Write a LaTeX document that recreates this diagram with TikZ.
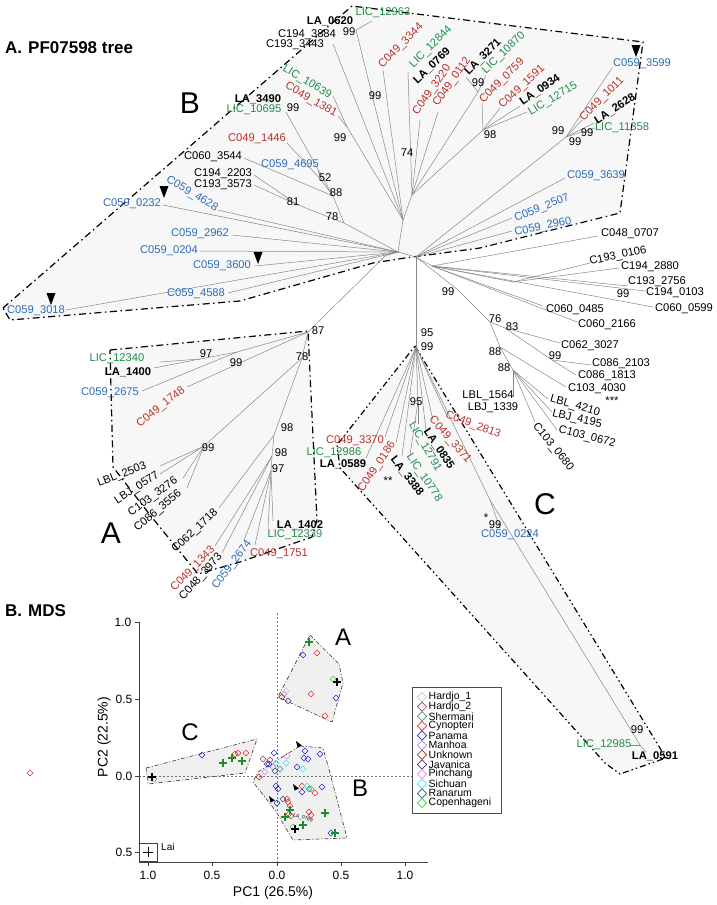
\documentclass[tikz,border=0pt]{standalone}
\usepackage{fontspec}
\setmainfont{Liberation Sans}
\usetikzlibrary{shapes.geometric}
\definecolor{redL}{RGB}{185,50,45}
\definecolor{greenL}{RGB}{35,140,75}
\definecolor{blueL}{RGB}{45,110,185}
\definecolor{edgegray}{RGB}{135,135,135}
\definecolor{hullfill}{RGB}{247,247,247}
\definecolor{cHa}{RGB}{200,200,200}
\definecolor{cHb}{RGB}{160,64,96}
\definecolor{cSh}{RGB}{58,154,138}
\definecolor{cCy}{RGB}{232,48,48}
\definecolor{cPa}{RGB}{42,42,208}
\definecolor{cMa}{RGB}{136,152,240}
\definecolor{cUn}{RGB}{160,48,32}
\definecolor{cJa}{RGB}{74,48,144}
\definecolor{cPi}{RGB}{240,128,240}
\definecolor{cSi}{RGB}{64,232,248}
\definecolor{cRa}{RGB}{48,88,120}
\definecolor{cCo}{RGB}{64,208,64}
\definecolor{cPlus}{RGB}{30,140,40}
\newcommand{\mkD}[3]{\draw[#1,line width=0.6pt] (#2,#3) ++(0,-3) -- ++(3,3) -- ++(-3,3) -- ++(-3,-3) -- cycle;}
\newcommand{\mkP}[3]{\draw[#1,line width=1.1pt] (#2,#3) ++(-4,0) -- ++(8,0) (#2,#3) ++(0,-4) -- ++(0,8);}
\newcommand{\mytri}[2]{\fill (#1,#2) ++(-4.5,-6) -- ++(9,0) -- ++(-4.5,12) -- cycle;}
\newcommand{\mkT}[2]{\fill (#1,#2) ++(-3,-4) -- ++(6,4.5) -- ++(-4.5,2) -- cycle;}
\begin{document}
\begin{tikzpicture}[x=1pt,y=-1pt,
  lab/.style={inner sep=0pt,font=\fontsize{11.2}{12}\selectfont},
  bl/.style={inner sep=0pt,font=\fontsize{11.2}{12}\selectfont\bfseries},
  rd/.style={lab,text=redL},
  gr/.style={lab,text=greenL},
  bu/.style={lab,text=blueL},
  edge/.style={draw=edgegray,line width=0.5pt},
  hull/.style={draw=black,line width=1.2pt,fill=hullfill,dash pattern=on 7pt off 3.5pt on 1.5pt off 3.5pt},
  hullc/.style={draw=black,line width=1.2pt,fill=hullfill,dash pattern=on 6pt off 3pt on 1.5pt off 3pt on 1.5pt off 3pt},
  mhull/.style={draw=black!80,line width=0.6pt,fill=black!6,dash pattern=on 4pt off 2pt on 1pt off 2pt},
  big/.style={inner sep=0pt,font=\fontsize{30}{30}\selectfont},
  mbig/.style={inner sep=0pt,font=\fontsize{24}{24}\selectfont},
  head/.style={inner sep=0pt,anchor=west,font=\fontsize{17}{17}\selectfont\bfseries},
  tick/.style={inner sep=0pt,font=\fontsize{12}{12}\selectfont},
  leglab/.style={inner sep=0pt,anchor=west,font=\fontsize{10.5}{10.5}\selectfont}]
\useasboundingbox (0,0) rectangle (717,905);
\fill[white] (0,0) rectangle (717,905);

% ---------- hulls ----------
\draw[hull] (3,308) -- (352,6) -- (643,42) -- (620,213) -- (480,248) -- (405,258) -- (373,263) -- (240,301) -- (10,320) -- cycle;
\draw[hull] (110,350) -- (308,331) -- (317,520) -- (312,537) -- (240,562) -- (198,574) -- (150,515) -- (113,467) -- cycle;
\draw[hullc] (415,346) -- (666,758) -- (640,767) -- (620,774) -- (605,763) -- (340,468) -- (337,445) -- cycle;

% ---------- tree coordinates ----------
\coordinate (R) at (398,252);
\coordinate (Ra) at (385,256);
\coordinate (Rr) at (416,257);
\coordinate (Rc) at (416,262);
\coordinate (U1) at (403,220);
\coordinate (U2) at (412,195);
\coordinate (n0620) at (356,30);
\coordinate (e12963) at (372,21);
\coordinate (e3884) at (333,44);
\coordinate (n99a) at (347,127);
\coordinate (e10639) at (333,96);
\coordinate (e1381) at (338,116);
\coordinate (e3344) at (383,70);
\coordinate (e12844) at (408,72);
\coordinate (e3220) at (420,120);
\coordinate (e0112) at (438,112);
\coordinate (n3271) at (478,92);
\coordinate (e3271) at (466,77);
\coordinate (e10870) at (486,75);
\coordinate (n98) at (483,130);
\coordinate (e0759) at (482,103);
\coordinate (e1591) at (500,108);
\coordinate (e0934) at (520,106);
\coordinate (e12715) at (527,112);
\coordinate (n78b) at (344,223);
\coordinate (n81) at (298,205);
\coordinate (e3573) at (254,185);
\coordinate (e2203) at (254,175);
\coordinate (n88) at (333,196);
\coordinate (e3544) at (244,158);
\coordinate (n52) at (322,181);
\coordinate (e1446) at (287,143);
\coordinate (e4695) at (318,170);
\coordinate (n99c) at (286,112);
\coordinate (e4628) at (218,210);
\coordinate (e0232) at (163,205);
\coordinate (e2962) at (232,235);
\coordinate (e0204) at (200,251);
\coordinate (e3600) at (255,266);
\coordinate (e4588) at (228,293);
\coordinate (e3018) at (66,310);
\coordinate (n99r) at (566,137);
\coordinate (e3599) at (612,68);
\coordinate (e1011) at (582,120);
\coordinate (e2628) at (594,123);
\coordinate (e11358) at (595,128);
\coordinate (e3639) at (565,178);
\coordinate (e2507) at (512,218);
\coordinate (e2960) at (512,231);
\coordinate (gA) at (432,266);
\coordinate (e0707) at (598,236);
\coordinate (n0106) at (513,282);
\coordinate (e0106) at (590,263);
\coordinate (e2880) at (619,268);
\coordinate (e2756) at (628,286);
\coordinate (e0103) at (645,291);
\coordinate (e0599) at (653,307);
\coordinate (e0485) at (543,306);
\coordinate (e2166) at (577,322);
\coordinate (g99) at (458,290);
\coordinate (n76) at (490,322);
\coordinate (n83) at (505,328);
\coordinate (e3027) at (560,343);
\coordinate (n99m) at (552,360);
\coordinate (e2103) at (591,365);
\coordinate (e1813) at (576,375);
\coordinate (n88a) at (500,347);
\coordinate (e4030) at (566,387);
\coordinate (n88b) at (513,370);
\coordinate (e4210) at (548,399);
\coordinate (e4195) at (552,412);
\coordinate (e0672) at (557,430);
\coordinate (e0680) at (535,422);
\coordinate (e1564) at (513,397);
\coordinate (nC) at (416,347);
\coordinate (e3370) at (385,437);
\coordinate (e0589) at (366,458);
\coordinate (e0186) at (396,443);
\coordinate (e3388) at (402,456);
\coordinate (n95) at (418,402);
\coordinate (e10778) at (410,455);
\coordinate (e12791) at (418,424);
\coordinate (e0835) at (426,430);
\coordinate (e3371) at (433,420);
\coordinate (e2813) at (446,414);
\coordinate (n99C) at (490,500);
\coordinate (e0224) at (500,528);
\coordinate (n99D) at (640,745);
\coordinate (e12985) at (630,745);
\coordinate (e0591) at (646,752);
\coordinate (n87) at (308,332);
\coordinate (n99A) at (237,352);
\coordinate (n97) at (200,359);
\coordinate (e12340) at (160,362);
\coordinate (e1400) at (154,368);
\coordinate (e2675) at (142,391);
\coordinate (e1748) at (187,387);
\coordinate (n78A) at (302,358);
\coordinate (n99L) at (204,446);
\coordinate (e2503) at (160,466);
\coordinate (e0577) at (160,474);
\coordinate (e3276) at (183,478);
\coordinate (e3556) at (187,488);
\coordinate (n98a) at (274,435);
\coordinate (e1718) at (219,508);
\coordinate (n98b) at (272,456);
\coordinate (e1343) at (215,546);
\coordinate (e3973) at (222,553);
\coordinate (n97A) at (271,471);
\coordinate (e2674) at (244,540);
\coordinate (e1751) at (255,545);
\coordinate (e12339) at (268,530);
\coordinate (e1402) at (273,521);

% ---------- tree edges ----------
\foreach \a/\b in {R/Ra,R/Rr,Rr/Rc,R/U1,U1/U2,U1/n0620,n0620/e12963,U1/e3884,U1/n99a,n99a/e10639,n99a/e1381,U1/e3344,
  U2/e12844,U2/e3220,U2/e0112,U2/n3271,n3271/e3271,n3271/e10870,U2/n98,n98/e0759,n98/e1591,n98/e0934,n98/e12715,
  R/n78b,n78b/n81,n81/e3573,n81/e2203,n78b/n88,n88/e3544,n88/n52,n52/e1446,n52/e4695,n88/n99c,
  R/e4628,R/e0232,R/e2962,R/e0204,R/e3600,R/e4588,R/e3018,
  Rr/n99r,n99r/e3599,n99r/e1011,n99r/e2628,n99r/e11358,Rr/e3639,Rr/e2507,Rr/e2960,
  Rr/gA,gA/e0707,gA/n0106,n0106/e0106,n0106/e2880,gA/e2756,gA/e0103,gA/e0599,gA/e0485,gA/e2166,
  Rr/g99,g99/n76,n76/n83,n83/e3027,n83/n99m,n99m/e2103,n99m/e1813,n76/n88a,n88a/e4030,n88a/n88b,
  n88b/e4210,n88b/e4195,n88b/e0672,n88b/e0680,n88b/e1564,
  Rc/nC,nC/e3370,nC/e0589,nC/e0186,nC/e3388,nC/n95,n95/e10778,n95/e12791,nC/e0835,nC/e3371,nC/e2813,
  nC/n99C,n99C/e0224,n99C/n99D,n99D/e12985,n99D/e0591,
  Ra/n87,n87/n99A,n99A/n97,n97/e12340,n97/e1400,n99A/e2675,n87/e1748,n87/n78A,n78A/n99L,
  n99L/e2503,n99L/e0577,n99L/e3276,n99L/e3556,n78A/n98a,n98a/e1718,n98a/n98b,n98b/e1343,n98b/e3973,
  n98b/n97A,n97A/e2674,n97A/e1751,n97A/e12339,n97A/e1402}
  \draw[edge] (\a) -- (\b);

% ---------- triangles ----------
\mytri{164}{192}
\mytri{636}{51}
\mytri{51}{299}
\mytri{258}{258}

% ---------- headings ----------
\node[head] (hA) at (5,48) {A.\hspace{6pt}PF07598 tree};
\node[head] (hB) at (5,611) {B.\hspace{6pt}MDS};
\node[big] (bigB) at (190,103) {B};
\node[big] (bigA) at (111,533) {A};
\node[big] (bigC) at (545,504) {C};

% ---------- B labels ----------
\node[bl] (tLA0620) at (330,21) {LA\_0620};
\node[gr] (tLIC12963) at (383,13) {LIC\_12963};
\node[lab] (s01) at (349,32) {99};
\node[lab] (tC1943884) at (307,35) {C194\_3884};
\node[lab] (tC1933443) at (295,45) {C193\_3443};
\node[gr,rotate=-31] (tLIC10639) at (307,82) {LIC\_10639};
\node[rd,rotate=-30] (tC0491381) at (311,100) {C049\_1381};
\node[bl] (tLA3490) at (258,99) {LA\_3490};
\node[gr] (tLIC10695) at (254,110) {LIC\_10695};
\node[lab] (s02) at (293,108) {99};
\node[rd] (tC0491446) at (257,139) {C049\_1446};
\node[lab] (tC0603544) at (213,157) {C060\_3544};
\node[bu] (tC0594695) at (290,165) {C059\_4695};
\node[lab] (tC1942203) at (223,174) {C194\_2203};
\node[lab] (tC1933573) at (223,185) {C193\_3573};
\node[bu,rotate=-31] (tC0594628) at (192,194) {C059\_4628};
\node[bu] (tC0590232) at (132,204) {C059\_0232};
\node[bu] (tC0592962) at (200,234) {C059\_2962};
\node[bu] (tC0590204) at (169,251) {C059\_0204};
\node[bu] (tC0593600) at (222,266) {C059\_3600};
\node[bu] (tC0594588) at (196,294) {C059\_4588};
\node[bu] (tC0593018) at (36,311) {C059\_3018};
\node[lab] (s03) at (340,138) {99};
\node[lab] (s04) at (375,96) {99};
\node[lab] (s05) at (407,153) {74};
\node[lab] (s06) at (325,178) {52};
\node[lab] (s07) at (336,193) {88};
\node[lab] (s08) at (293,202) {81};
\node[lab] (s09) at (332,217) {78};
\node[rd,rotate=45] (tC0493344) at (401,46) {C049\_3344};
\node[gr,rotate=45] (tLIC12844) at (431,47) {LIC\_12844};
\node[bl,rotate=44] (tLA0769) at (432,66) {LA\_0769};
\node[rd,rotate=55] (tC0493220) at (432,90) {C049\_3220};
\node[rd,rotate=55] (tC0490112) at (452,82) {C049\_0112};
\node[bl,rotate=45] (tLA3271) at (483,57) {LA\_3271};
\node[gr,rotate=44] (tLIC10870) at (504,53) {LIC\_10870};
\node[rd,rotate=45] (tC0490759) at (502,81) {C049\_0759};
\node[rd,rotate=43] (tC0491591) at (522,87) {C049\_1591};
\node[bl,rotate=35] (tLA0934) at (540,90) {LA\_0934};
\node[gr,rotate=31] (tLIC12715) at (553,99) {LIC\_12715};
\node[lab] (s10) at (478,83) {99};
\node[lab] (s11) at (490,135) {98};
\node[bu] (tC0593599) at (642,64) {C059\_3599};
\node[rd,rotate=45] (tC0491011) at (602,99) {C049\_1011};
\node[bl,rotate=33] (tLA2628) at (615,109) {LA\_2628};
\node[gr] (tLIC11358) at (622,128) {LIC\_11358};
\node[lab] (s12) at (558,131) {99};
\node[lab] (s13) at (575,142) {99};
\node[lab] (s14) at (587,133) {99};
\node[bu] (tC0593639) at (596,176) {C059\_3639};
\node[bu,rotate=22] (tC0592507) at (542,208) {C059\_2507};
\node[bu,rotate=12] (tC0592960) at (543,227) {C059\_2960};

% ---------- right black labels ----------
\node[lab] (tC0480707) at (630,234) {C048\_0707};
\node[lab,rotate=12] (tC1930106) at (618,256) {C193\_0106};
\node[lab] (tC1942880) at (650,267) {C194\_2880};
\node[lab] (tC1932756) at (657,282) {C193\_2756};
\node[lab] (s15) at (623,294) {99};
\node[lab] (tC1940103) at (675,293) {C194\_0103};
\node[lab] (tC0600599) at (684,309) {C060\_0599};
\node[lab] (tC0600485) at (575,310) {C060\_0485};
\node[lab] (tC0602166) at (607,325) {C060\_2166};
\node[lab] (s16) at (448,292) {99};
\node[lab] (s17) at (495,319) {76};
\node[lab] (s18) at (512,327) {83};
\node[lab] (tC0623027) at (590,346) {C062\_3027};
\node[lab] (tC0862103) at (621,364) {C086\_2103};
\node[lab] (tC0861813) at (607,376) {C086\_1813};
\node[lab] (s19) at (555,356) {99};
\node[lab] (s20) at (495,352) {88};
\node[lab] (s21) at (504,368) {88};
\node[lab] (tC1034030) at (597,389) {C103\_4030};
\node[lab] (s22) at (612,401) {***};
\node[lab,rotate=-16] (tLBL4210) at (575,406) {LBL\_4210};
\node[lab,rotate=-13] (tLBJ4195) at (577,419) {LBJ\_4195};
\node[lab,rotate=-14] (tC1030672) at (587,437) {C103\_0672};
\node[lab,rotate=-51] (tC1030680) at (553,447) {C103\_0680};
\node[lab] (tLBL1564) at (488,396) {LBL\_1564};
\node[lab] (tLBJ1339) at (493,408) {LBJ\_1339};

% ---------- C labels ----------
\node[rd] (tC0493370) at (355,441) {C049\_3370};
\node[gr] (tLIC12986) at (334,453) {LIC\_12986};
\node[bl] (tLA0589) at (343,464) {LA\_0589};
\node[rd,rotate=56] (tC0490186) at (377,467) {C049\_0186};
\node[bl,rotate=-52] (tLA3388) at (407,476) {LA\_3388};
\node[lab] (s23) at (388,481) {**};
\node[gr,rotate=-56] (tLIC10778) at (424,478) {LIC\_10778};
\node[gr,rotate=-60] (tLIC12791) at (425,447) {LIC\_12791};
\node[bl,rotate=-56] (tLA0835) at (439,449) {LA\_0835};
\node[rd,rotate=-49] (tC0493371) at (450,440) {C049\_3371};
\node[rd,rotate=-20] (tC0492813) at (473,425) {C049\_2813};
\node[lab] (s24) at (416,402) {95};
\node[lab] (s25) at (427,333) {95};
\node[lab] (s26) at (427,347) {99};
\node[bu] (tC0590224) at (510,535) {C059\_0224};
\node[lab] (s27) at (486,518) {*};
\node[lab] (s28) at (495,525) {99};
\node[gr] (tLIC12985) at (604,745) {LIC\_12985};
\node[bl] (tLA0591) at (655,756) {LA\_0591};
\node[lab] (s29) at (637,730) {99};

% ---------- A labels ----------
\node[gr] (tLIC12340) at (117,359) {LIC\_12340};
\node[bl] (tLA1400) at (128,372) {LA\_1400};
\node[bu] (tC0592675) at (110,393) {C059\_2675};
\node[rd,rotate=38] (tC0491748) at (161,407) {C049\_1748};
\node[lab] (s30) at (206,354) {97};
\node[lab] (s31) at (236,363) {99};
\node[lab] (s32) at (318,331) {87};
\node[lab] (s33) at (302,357) {78};
\node[lab] (s34) at (208,448) {99};
\node[lab,rotate=21] (tLBL2503) at (122,475) {LBL\_2503};
\node[lab,rotate=33] (tLBJ0577) at (137,488) {LBJ\_0577};
\node[lab,rotate=36] (tC1033276) at (153,497) {C103\_3276};
\node[lab,rotate=40] (tC0863556) at (158,511) {C086\_3556};
\node[lab,rotate=43] (tC0621718) at (195,531) {C062\_1718};
\node[rd,rotate=46] (tC0491343) at (193,569) {C049\_1343};
\node[lab,rotate=48] (tC0483973) at (201,577) {C048\_3973};
\node[bu,rotate=53] (tC0592674) at (232,565) {C059\_2674};
\node[rd] (tC0491751) at (279,554) {C049\_1751};
\node[gr] (tLIC12339) at (295,535) {LIC\_12339};
\node[bl] (tLA1402) at (300,525) {LA\_1402};
\node[lab] (s35) at (287,428) {98};
\node[lab] (s36) at (281,453) {98};
\node[lab] (s37) at (278,469) {97};

% ---------- MDS ----------
\draw[mhull] (310,635) -- (339,664) -- (343,683) -- (332,722) -- (278,697) -- cycle;
\draw[mhull] (146,768) -- (257,739) -- (245,773) -- (148,784) -- cycle;
\draw[mhull] (300,746) -- (323,748) -- (330,773) -- (347,838) -- (293,840) -- (275,810) -- (253,782) -- (258,772) -- cycle;
\draw[black!55,line width=0.5pt,dash pattern=on 2pt off 2pt] (277,613) -- (277,862);
\draw[black!55,line width=0.5pt,dash pattern=on 2pt off 2pt] (139,776) -- (412,776);
\draw[black!75,line width=0.8pt] (139,622) -- (139,862) -- (428,862);
\foreach \yy in {622,699,776,852} \draw[black!75,line width=0.8pt] (139,\yy) -- (135,\yy);
\foreach \xx in {148,212,277,341,405} \draw[black!75,line width=0.8pt] (\xx,862) -- (\xx,866);
\node[tick] (y1) at (123,622) {1.0};
\node[tick] (y2) at (124,699) {0.5};
\node[tick] (y3) at (124,776) {0.0};
\node[tick] (y4) at (124,852) {0.5};
\node[tick] (x1) at (148,875) {1.0};
\node[tick] (x2) at (212,875) {0.5};
\node[tick] (x3) at (277,875) {0.0};
\node[tick] (x4) at (341,875) {0.5};
\node[tick] (x5) at (405,875) {1.0};
\node[inner sep=0pt,font=\fontsize{14}{14}\selectfont] (xl) at (273,893) {PC1 (26.5\%)};
\node[inner sep=0pt,rotate=90,font=\fontsize{14}{14}\selectfont] (yl) at (104,737) {PC2 (22.5\%)};
\node[mbig] (mA) at (343,637) {A};
\node[mbig] (mB) at (360,788) {B};
\node[mbig] (mC) at (190,732) {C};
\draw[black!75,line width=0.6pt] (139,843) rectangle (157,861);
\draw[black,line width=0.6pt] (143,852) -- (153,852) (148,847) -- (148,857);
\node[inner sep=0pt,anchor=west,font=\fontsize{10}{10}\selectfont] (lai) at (161,847) {Lai};
\mkD{cCy}{30}{773}

% markers
\foreach \p/\q in {303/655,336/698,202/755,274/753,269/764,305/751,304/758,308/759,320/754,297/767,276/786,278/789,302/792,322/787,277/803,331/833}
  {\mkD{cPa}{\p}{\q}}
\foreach \p/\q in {317/653,311/694,325/716,235/754,238/753,246/753,302/786,315/793,287/799,288/802,290/806,289/814,291/816,309/812,311/815}
  {\mkD{cCy}{\p}{\q}}
\foreach \p/\q in {333/679,154/779,311/789,293/827}
  {\mkD{cCo}{\p}{\q}}
\foreach \p/\q in {284/694,273/767} {\mkD{cMa}{\p}{\q}}
\foreach \p/\q in {282/697,259/777,270/760} {\mkD{cUn}{\p}{\q}}
\foreach \p/\q in {288/701,267/764} {\mkD{cJa}{\p}{\q}}
\foreach \p/\q in {263/759} {\mkD{cHb}{\p}{\q}}
\foreach \p/\q in {287/756,265/772} {\mkD{cPi}{\p}{\q}}
\foreach \p/\q in {276/763,286/763,303/769,307/786} {\mkD{cSi}{\p}{\q}}
\foreach \p/\q in {280/769,309/789} {\mkD{cSh}{\p}{\q}}
\foreach \p/\q in {275/771,283/799} {\mkD{cRa}{\p}{\q}}
\foreach \p/\q in {286/691} {\mkD{cHa}{\p}{\q}}
\foreach \p/\q in {309/642,223/763,232/758,242/761,290/810,285/817,303/825,325/813,335/833}
  {\mkP{cPlus}{\p}{\q}}
\foreach \p/\q in {337/682,152/777,295/829} {\mkP{black}{\p}{\q}}
\mkT{299}{745}
\mkT{296}{788}
\mkT{272}{800}
\node[inner sep=0pt,rotate=-15,font=\fontsize{5}{5}\selectfont] (tiny) at (303,818) {LA\_0769};

% legend
\node[draw=black!70,line width=0.6pt,fill=white,minimum width=89pt,minimum height=126pt,anchor=north west,inner sep=0pt] (leg) at (412,687) {};
\foreach \n/\c [count=\i from 0] in {Hardjo\_1/cHa,Hardjo\_2/cHb,Shermani/cSh,Cynopteri/cCy,Panama/cPa,Manhoa/cMa,Unknown/cUn,Javanica/cJa,Pinchang/cPi,Sichuan/cSi,Ranarum/cRa,Copenhageni/cCo}{
  \pgfmathsetmacro{\yy}{697+9.64*\i}
  \draw[\c,line width=0.7pt] (422,\yy) ++(0,-4.6) -- ++(4.6,4.6) -- ++(-4.6,4.6) -- ++(-4.6,-4.6) -- cycle;
  \node[leglab] (lg\i) at (428.5,\yy) {\n};
}
\end{tikzpicture}
\end{document}
